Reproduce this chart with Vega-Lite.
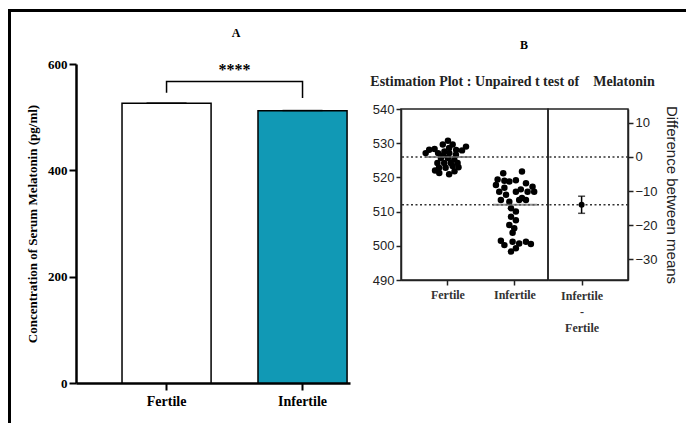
{
  "$schema": "https://vega.github.io/schema/vega-lite/v6.json",
  "padding": {"left": 8, "top": 9, "right": 0, "bottom": 0},
  "background": "white",
  "config": {"view": {"stroke": null}, "axis": {"labelOverlap": false, "grid": false}},
  "spacing": 0,
  "resolve": {"scale": {"xOffset": "independent", "fill": "independent", "color": "independent"}},
  "vconcat": [
    {"width": 676, "height": 1, "data": {"values": []}, "mark": "point", "view": {"stroke": "black", "strokeWidth": 2}},
    {
      "spacing": 15,
      "resolve": {"scale": {"xOffset": "independent", "fill": "independent", "color": "independent"}},
      "hconcat": [
        {"width": 1, "height": 409, "data": {"values": []}, "mark": "point", "view": {"stroke": "black", "strokeWidth": 2}},
        {
          "spacing": 20,
          "resolve": {"scale": {"xOffset": "independent", "fill": "independent", "color": "independent"}},
          "hconcat": [
            {
              "spacing": 5,
              "vconcat": [
                {
                  "width": 274,
                  "height": 40,
                  "data": {"values": [{"label": "A"}]},
                  "mark": {"type": "text", "font": "Liberation Serif", "fontSize": 12, "fontWeight": "bold", "color": "black", "dx": 23},
                  "encoding": {"text": {"field": "label"}}
                },
                {
                  "width": 274,
                  "height": 319,
                  "layer": [
                    {
                      "data": {"values": [
                        {"group": "Fertile", "mean": 526},
                        {"group": "Infertile", "mean": 512}
                      ]},
                      "mark": {"type": "bar", "width": {"band": 1}, "stroke": "black", "strokeWidth": 1.5},
                      "encoding": {
                        "x": {"field": "group", "type": "nominal", "scale": {"type": "band", "paddingInner": 0.345, "paddingOuter": 0.18, "align": 0.94},
                          "axis": {"title": null, "labelAngle": 0, "labelAlign": "center", "domainColor": "black", "domainWidth": 2.5, "tickColor": "black", "tickWidth": 2, "tickSize": 7, "labelFont": "Liberation Serif", "labelFontSize": 14, "labelFontWeight": "bold", "labelColor": "black", "labelPadding": 4}},
                        "y": {"field": "mean", "type": "quantitative", "scale": {"domain": [0, 600], "nice": false},
                          "axis": {"title": "Concentration of Serum Melatonin (pg/ml)", "values": [0, 200, 400, 600], "domainColor": "black", "domainWidth": 2.5, "tickColor": "black", "tickWidth": 2, "tickSize": 7, "labelFont": "Liberation Serif", "labelFontSize": 13, "labelFontWeight": "bold", "labelColor": "black", "labelPadding": 2, "titleFont": "Liberation Serif", "titleFontSize": 13, "titleFontWeight": "bold", "titleColor": "black", "titlePadding": 8}},
                        "fill": {"field": "group", "type": "nominal", "scale": {"range": ["white", "#1199b5"]}, "legend": null}
                      }
                    },
                    {
                      "data": {"values": [
                        {"group": "Fertile", "hi": 526.6},
                        {"group": "Infertile", "hi": 512.6}
                      ]},
                      "mark": {"type": "tick", "color": "black", "thickness": 1.5, "size": 40},
                      "encoding": {
                        "x": {"field": "group", "type": "nominal"},
                        "y": {"field": "hi", "type": "quantitative"}
                      }
                    },
                    {
                      "data": {"values": [
                        {"group": "Fertile", "y": 546, "o": 1},
                        {"group": "Fertile", "y": 567, "o": 2},
                        {"group": "Infertile", "y": 567, "o": 3},
                        {"group": "Infertile", "y": 536, "o": 4}
                      ]},
                      "mark": {"type": "line", "color": "black", "strokeWidth": 1.5},
                      "encoding": {
                        "x": {"field": "group", "type": "nominal"},
                        "y": {"field": "y", "type": "quantitative"},
                        "order": {"field": "o"}
                      }
                    },
                    {
                      "data": {"values": [{"group": "Fertile", "y": 588, "label": "****"}]},
                      "mark": {"type": "text", "dx": 68, "font": "Liberation Serif", "fontSize": 16, "fontWeight": "bold", "color": "black"},
                      "encoding": {
                        "x": {"field": "group", "type": "nominal"},
                        "y": {"field": "y", "type": "quantitative"},
                        "text": {"field": "label"}
                      }
                    }
                  ]
                }
              ]
            },
            {
              "spacing": 5,
              "vconcat": [
                {
                  "width": 227,
                  "height": 84,
                  "layer": [
                    {
                      "data": {"values": [{"label": "B"}]},
                      "mark": {"type": "text", "font": "Liberation Serif", "fontSize": 12, "fontWeight": "bold", "color": "black", "dx": 9.5, "dy": -10},
                      "encoding": {"text": {"field": "label"}}
                    },
                    {
                      "data": {"values": [{"label": "Estimation Plot : Unpaired t test of \u00a0\u00a0 Melatonin"}]},
                      "mark": {"type": "text", "font": "Liberation Serif", "fontSize": 14, "fontWeight": "bold", "color": "#222", "dx": -2, "dy": 27},
                      "encoding": {"text": {"field": "label"}}
                    }
                  ]
                },
                {
                  "bounds": "flush",
                  "spacing": 0,
                  "hconcat": [
                    {
                      "width": 147,
                      "height": 171,
                      "view": {"stroke": "#222", "strokeWidth": 1.5},
                      "layer": [
                        {
                          "data": {"values": [
                            {"group": "Fertile", "v": 530.7, "j": 0.0},
                            {"group": "Fertile", "v": 529.6, "j": -0.22},
                            {"group": "Fertile", "v": 529.6, "j": 0.2},
                            {"group": "Fertile", "v": 529.0, "j": 0.77},
                            {"group": "Fertile", "v": 527.9, "j": 0.6},
                            {"group": "Fertile", "v": 528.1, "j": -0.8},
                            {"group": "Fertile", "v": 527.1, "j": -0.95},
                            {"group": "Fertile", "v": 528.3, "j": -0.57},
                            {"group": "Fertile", "v": 527.1, "j": -0.42},
                            {"group": "Fertile", "v": 527.6, "j": -0.15},
                            {"group": "Fertile", "v": 527.1, "j": 0.06},
                            {"group": "Fertile", "v": 526.6, "j": 0.34},
                            {"group": "Fertile", "v": 525.7, "j": -0.3},
                            {"group": "Fertile", "v": 525.7, "j": 0.0},
                            {"group": "Fertile", "v": 525.2, "j": 0.27},
                            {"group": "Fertile", "v": 524.2, "j": -0.45},
                            {"group": "Fertile", "v": 524.2, "j": -0.16},
                            {"group": "Fertile", "v": 524.2, "j": 0.12},
                            {"group": "Fertile", "v": 524.2, "j": 0.41},
                            {"group": "Fertile", "v": 522.8, "j": -0.38},
                            {"group": "Fertile", "v": 522.8, "j": -0.1},
                            {"group": "Fertile", "v": 523.3, "j": 0.2},
                            {"group": "Fertile", "v": 521.3, "j": -0.37},
                            {"group": "Fertile", "v": 520.9, "j": 0.05},
                            {"group": "Fertile", "v": 521.8, "j": 0.28},
                            {"group": "Fertile", "v": 528.6, "j": 0.05},
                            {"group": "Fertile", "v": 526.5, "j": -0.2},
                            {"group": "Fertile", "v": 528.0, "j": 0.35},
                            {"group": "Fertile", "v": 523.0, "j": 0.45},
                            {"group": "Fertile", "v": 522.0, "j": -0.55},
                            {"group": "Infertile", "v": 521.7, "j": 0.3},
                            {"group": "Infertile", "v": 521.2, "j": -0.5},
                            {"group": "Infertile", "v": 519.4, "j": -0.74},
                            {"group": "Infertile", "v": 517.8, "j": -0.81},
                            {"group": "Infertile", "v": 518.8, "j": -0.24},
                            {"group": "Infertile", "v": 519.2, "j": 0.04},
                            {"group": "Infertile", "v": 518.3, "j": 0.47},
                            {"group": "Infertile", "v": 517.3, "j": 0.75},
                            {"group": "Infertile", "v": 515.8, "j": 0.82},
                            {"group": "Infertile", "v": 515.8, "j": 0.54},
                            {"group": "Infertile", "v": 515.8, "j": -0.67},
                            {"group": "Infertile", "v": 514.9, "j": -0.38},
                            {"group": "Infertile", "v": 515.8, "j": 0.04},
                            {"group": "Infertile", "v": 513.4, "j": -0.6},
                            {"group": "Infertile", "v": 512.9, "j": -0.24},
                            {"group": "Infertile", "v": 513.4, "j": 0.18},
                            {"group": "Infertile", "v": 513.4, "j": 0.47},
                            {"group": "Infertile", "v": 511.0, "j": -0.17},
                            {"group": "Infertile", "v": 510.0, "j": 0.04},
                            {"group": "Infertile", "v": 508.5, "j": -0.17},
                            {"group": "Infertile", "v": 507.5, "j": 0.04},
                            {"group": "Infertile", "v": 506.1, "j": -0.24},
                            {"group": "Infertile", "v": 505.1, "j": -0.03},
                            {"group": "Infertile", "v": 503.8, "j": -0.1},
                            {"group": "Infertile", "v": 500.2, "j": -0.45},
                            {"group": "Infertile", "v": 501.2, "j": -0.1},
                            {"group": "Infertile", "v": 500.7, "j": 0.18},
                            {"group": "Infertile", "v": 501.2, "j": 0.47},
                            {"group": "Infertile", "v": 500.5, "j": 0.68},
                            {"group": "Infertile", "v": 498.3, "j": -0.17},
                            {"group": "Infertile", "v": 499.3, "j": 0.04},
                            {"group": "Infertile", "v": 501.5, "j": -0.6},
                            {"group": "Infertile", "v": 517.0, "j": -0.45},
                            {"group": "Infertile", "v": 516.5, "j": 0.25},
                            {"group": "Infertile", "v": 514.0, "j": 0.3},
                            {"group": "Infertile", "v": 519.0, "j": -0.45}
                          ]},
                          "mark": {"type": "circle", "color": "black", "opacity": 1, "size": 42},
                          "encoding": {
                            "x": {"field": "group", "type": "nominal", "scale": {"type": "band", "domain": ["Fertile", "Infertile"], "paddingInner": 0.3, "paddingOuter": 0.247, "align": 0.71},
                              "axis": {"title": null, "labelAngle": 0, "labelAlign": "center", "bandPosition": 0.5, "domainColor": "#222", "domainWidth": 1.5, "tickColor": "#222", "tickWidth": 1.5, "tickSize": 5, "labelFont": "Liberation Serif", "labelFontSize": 12, "labelFontWeight": "bold", "labelColor": "#333", "labelPadding": 4}},
                            "xOffset": {"field": "j", "type": "quantitative", "scale": {"domain": [-1, 1]}},
                            "y": {"field": "v", "type": "quantitative", "scale": {"domain": [490, 540], "nice": false},
                              "axis": {"title": null, "values": [490, 500, 510, 520, 530, 540], "labelOverlap": false, "domainColor": "#222", "domainWidth": 1.5, "tickColor": "#222", "tickWidth": 1.5, "tickSize": 5, "labelFont": "Liberation Sans", "labelFontSize": 13, "labelColor": "#222", "labelPadding": 2}}
                          }
                        },
                        {
                          "data": {"values": [{"m": 526}, {"m": 512}]},
                          "mark": {"type": "rule", "color": "#333", "strokeWidth": 1.5, "strokeDash": [2, 2.5]},
                          "encoding": {"y": {"field": "m", "type": "quantitative", "scale": {"domain": [490, 540], "nice": false},
                            "axis": {"title": null, "values": [490, 500, 510, 520, 530, 540], "labelOverlap": false, "domainColor": "#222", "domainWidth": 1.5, "tickColor": "#222", "tickWidth": 1.5, "tickSize": 5, "labelFont": "Liberation Sans", "labelFontSize": 13, "labelColor": "#222", "labelPadding": 2}}}
                        },
                        {
                          "data": {"values": [{"group": "Fertile", "m": 526}, {"group": "Infertile", "m": 512}]},
                          "mark": {"type": "tick", "color": "#666", "thickness": 2, "size": 44},
                          "encoding": {
                            "x": {"field": "group", "type": "nominal", "scale": {"type": "band", "domain": ["Fertile", "Infertile"], "paddingInner": 0.3, "paddingOuter": 0.247, "align": 0.71},
                              "axis": {"title": null, "labelAngle": 0, "labelAlign": "center", "bandPosition": 0.5, "domainColor": "#222", "domainWidth": 1.5, "tickColor": "#222", "tickWidth": 1.5, "tickSize": 5, "labelFont": "Liberation Serif", "labelFontSize": 12, "labelFontWeight": "bold", "labelColor": "#333", "labelPadding": 4}},
                            "y": {"field": "m", "type": "quantitative", "scale": {"domain": [490, 540], "nice": false},
                              "axis": {"title": null, "values": [490, 500, 510, 520, 530, 540], "labelOverlap": false, "domainColor": "#222", "domainWidth": 1.5, "tickColor": "#222", "tickWidth": 1.5, "tickSize": 5, "labelFont": "Liberation Sans", "labelFontSize": 13, "labelColor": "#222", "labelPadding": 2}}
                          }
                        }
                      ]
                    },
                    {
                      "width": 80,
                      "height": 171,
                      "view": {"stroke": "#222", "strokeWidth": 1.5},
                      "layer": [
                        {
                          "data": {"values": [{"m": 0}, {"m": -14}]},
                          "mark": {"type": "rule", "color": "#333", "strokeWidth": 1.5, "strokeDash": [2, 2.5]},
                          "encoding": {"y": {"field": "m", "type": "quantitative", "scale": {"domain": [-36, 14], "nice": false}}}
                        },
                        {
                          "data": {"values": [{"cmp": "Infertile - Fertile", "diff": -14, "lo": -16.5, "hi": -11.5}]},
                          "layer": [
                            {
                              "mark": {"type": "rule", "color": "black", "strokeWidth": 1.5},
                              "encoding": {
                                "x": {"field": "cmp", "type": "nominal", "scale": {"type": "point", "align": 0.42}},
                                "y": {"field": "lo", "type": "quantitative", "scale": {"domain": [-36, 14], "nice": false}},
                                "y2": {"field": "hi"}
                              }
                            },
                            {
                              "mark": {"type": "tick", "color": "black", "thickness": 1.5, "size": 7},
                              "encoding": {
                                "x": {"field": "cmp", "type": "nominal", "scale": {"type": "point", "align": 0.42}},
                                "y": {"field": "lo", "type": "quantitative"}
                              }
                            },
                            {
                              "mark": {"type": "tick", "color": "black", "thickness": 1.5, "size": 7},
                              "encoding": {
                                "x": {"field": "cmp", "type": "nominal", "scale": {"type": "point", "align": 0.42}},
                                "y": {"field": "hi", "type": "quantitative"}
                              }
                            },
                            {
                              "mark": {"type": "circle", "color": "black", "opacity": 1, "size": 36},
                              "encoding": {
                                "x": {"field": "cmp", "type": "nominal", "scale": {"type": "point", "align": 0.42},
                                  "axis": {"title": null, "labelAngle": 0, "labelAlign": "center", "labelExpr": "split(datum.label, ' ')", "labelLineHeight": 16, "domainColor": "#222", "domainWidth": 1.5, "tickColor": "#222", "tickWidth": 1.5, "tickSize": 5, "labelFont": "Liberation Serif", "labelFontSize": 12, "labelFontWeight": "bold", "labelColor": "#333", "labelPadding": 10}},
                                "y": {"field": "diff", "type": "quantitative", "scale": {"domain": [-36, 14], "nice": false},
                                  "axis": {"orient": "right", "title": "Difference between means", "values": [-30, -20, -10, 0, 10], "domainColor": "#222", "domainWidth": 1.5, "tickColor": "#222", "tickWidth": 1.5, "tickSize": 5, "labelFont": "Liberation Sans", "labelFontSize": 13, "labelColor": "#222", "labelPadding": 2, "titleFont": "Liberation Sans", "titleFontSize": 15, "titleFontWeight": "normal", "titleColor": "#222", "titleAngle": 90, "titlePadding": 6}}
                              }
                            }
                          ]
                        }
                      ]
                    }
                  ]
                }
              ]
            }
          ]
        }
      ]
    }
  ]
}
